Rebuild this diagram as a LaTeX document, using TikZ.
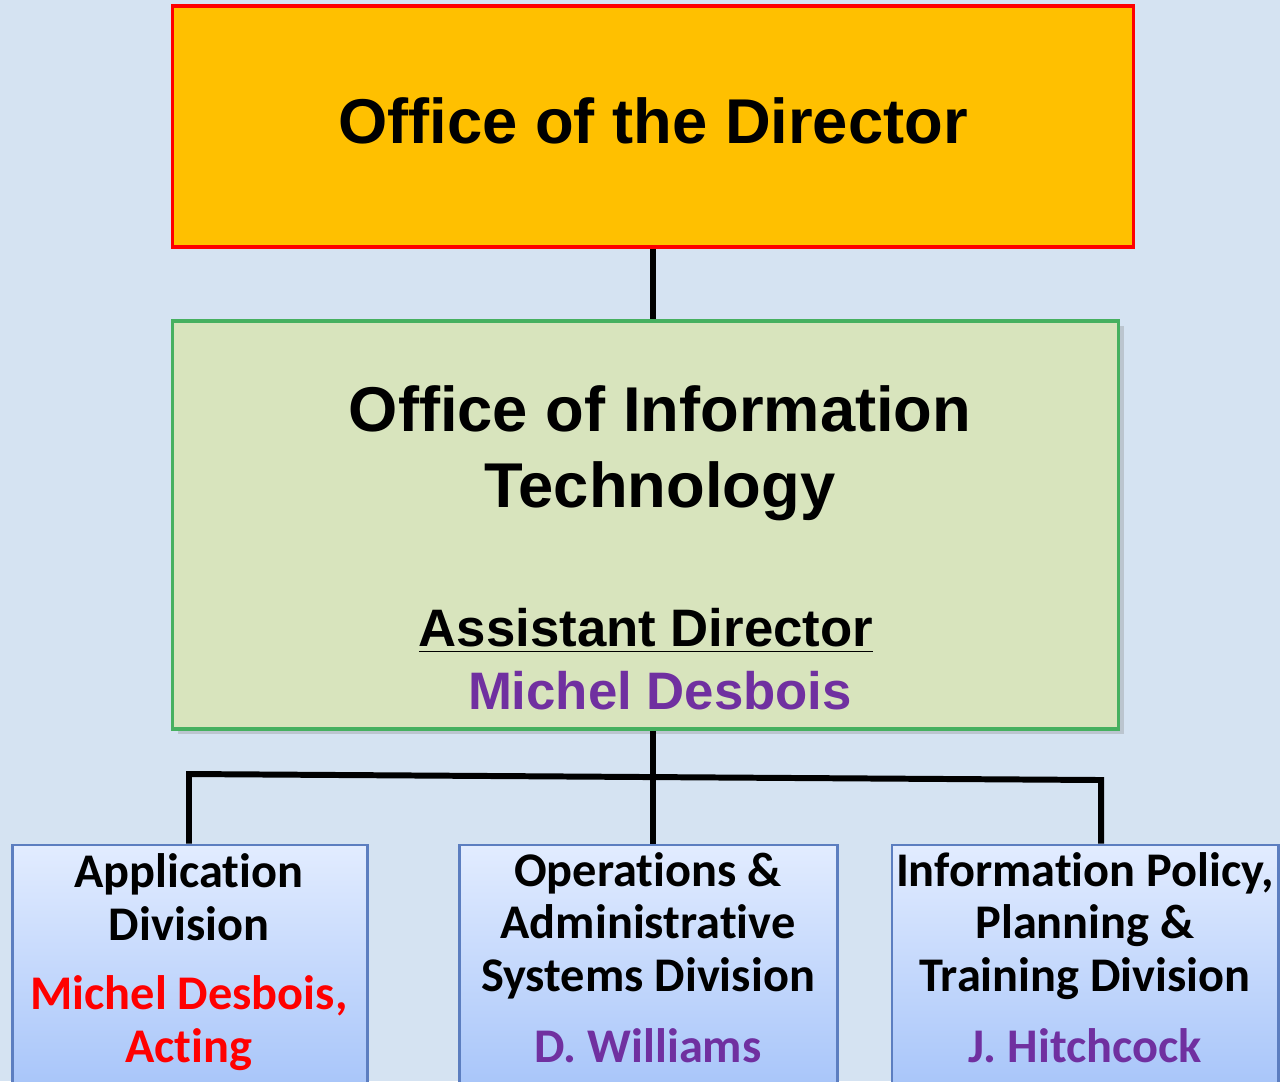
\documentclass[tikz,border=0pt]{standalone}
\usepackage{fontspec}
\setmainfont{Liberation Sans}
\newfontfamily\calibri[Ligatures=NoCommon]{Carlito}
\usetikzlibrary{shadows}
\definecolor{bgblue}{HTML}{D5E3F2}
\definecolor{gold}{HTML}{FFC000}
\definecolor{sage}{HTML}{D8E4BD}
\definecolor{boxgreen}{HTML}{46B060}
\definecolor{plum}{HTML}{7030A0}
\definecolor{divtop}{HTML}{E2ECFF}
\definecolor{divbot}{HTML}{A6C4F9}
\definecolor{divedge}{HTML}{5C7EC0}
\tikzset{
  conn/.style={line width=1.7pt},
  unit/.style={draw=divedge, line width=0.8pt, top color=divtop, bottom color=divbot,
    minimum height=2.5cm, inner sep=0pt},
  unitname/.style={font=\calibri\bfseries\fontsize{13.75}{14.8}\selectfont,
    align=center, anchor=base, inner sep=0pt},
  bigname/.style={font=\bfseries\fontsize{18}{21.6}\selectfont, align=center,
    anchor=base, inner sep=0pt},
  midname/.style={font=\bfseries\fontsize{15}{18}\selectfont, anchor=base, inner sep=0pt}
}
\begin{document}
\begin{tikzpicture}[x=0.01cm,y=-0.01cm]
    \fill[bgblue] (0,0) rectangle (1280,1081);
    \useasboundingbox (0,0) rectangle (1280,1081);
    % top and middle offices
    \node[draw=red, line width=1pt, fill=gold, minimum width=9.6cm, minimum height=2.41cm] (a) at (653,126.5) {};
    \node[bigname] (at) at (653,143) {Office of the Director};
    \node[draw=boxgreen, line width=1pt, fill=sage, minimum width=9.45cm, minimum height=4.08cm,
      drop shadow={opacity=0.3,shadow xshift=1.5pt,shadow yshift=-1.5pt}] (b) at (645.5,525) {};
    \node[bigname] (bt) at (660,507) {Office of Information\\Technology};
    \node[midname] (bs) at (646,646) {\underline{Assistant Director}};
    \node[midname, text=plum] (bn) at (660,709) {Michel Desbois};
    % divisions
    \node[unit, minimum width=3.54cm] (c) at (190,970) {};
    \node[unit, minimum width=3.77cm] (d) at (648.5,970) {};
    \node[unit, minimum width=3.86cm] (e) at (1085,970) {};
    \node[unitname] (ct) at (189,940) {Application\\Division};
    \node[unitname, text=red] (cn) at (189,1062) {Michel Desbois,\\Acting};
    \node[unitname] (dt) at (648,991) {Operations \&\\Administrative\\Systems Division};
    \node[unitname, text=plum] (dn) at (648,1062) {D. Williams};
    \node[unitname] (et) at (1085,991) {Information Policy,\\Planning \&\\Training Division};
    \node[unitname, text=plum] (en) at (1085,1062) {J. Hitchcock};
    % connectors
    \coordinate (trunk) at (653,777);
    \coordinate (busl) at (189,774);
    \coordinate (busr) at (1101,780);
    \draw[conn] (a.south -| trunk) -- (b.north -| trunk);
    \draw[conn] (b.south -| trunk) -- (d.north -| trunk);
    \draw[conn] (c.north -| busl) -- (busl) -- (busr) -- (e.north -| busr);
\end{tikzpicture}
\end{document}
